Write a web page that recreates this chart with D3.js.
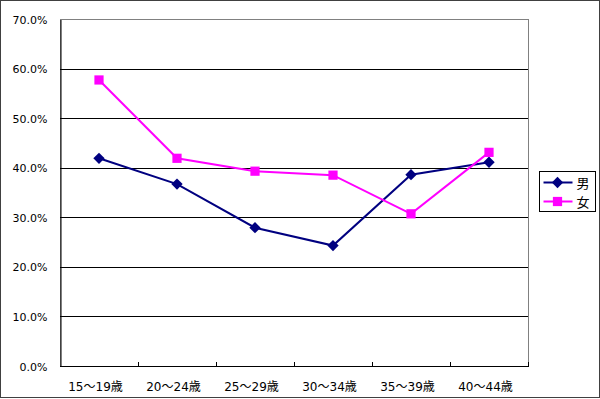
<!DOCTYPE html>
<html>
<head>
<meta charset="utf-8">
<script src="https://cdn.jsdelivr.net/npm/d3@7"></script>
<style>
  body { margin: 0; background: #fff; }
  text { font-family: "DejaVu Sans", "Noto Sans CJK JP", sans-serif; fill: #000; }
</style>
</head>
<body>
<div id="target_div"></div>
<script>
var categories = ['15～19歳', '20～24歳', '25～29歳', '30～34歳', '35～39歳', '40～44歳'];
var male = [41.9, 36.7, 27.9, 24.3, 38.6, 41.1];
var female = [57.7, 41.9, 39.3, 38.5, 30.7, 43.1];
var yTicks = [0, 10, 20, 30, 40, 50, 60, 70];
var seriesNames = ['男', '女'];

var W = 600, H = 399;
var plot = {left: 60, top: 19, right: 528, bottom: 366};

var svg = d3.select('#target_div')
  .append('svg')
  .attr('width', W)
  .attr('height', H);

// outer frame
svg.append('rect')
  .attr('x', 0.5).attr('y', 0.5)
  .attr('width', W - 1).attr('height', H - 2)
  .style('fill', '#fff')
  .style('stroke', '#404040');

var x = d3.scaleBand()
  .domain(categories)
  .range([plot.left, plot.right]);

var y = d3.scaleLinear()
  .domain([0, 70])
  .range([plot.bottom, plot.top]);

// plot area border
svg.append('rect')
  .attr('x', plot.left + 0.5).attr('y', plot.top + 0.5)
  .attr('width', plot.right - plot.left).attr('height', plot.bottom - plot.top)
  .style('fill', 'none')
  .style('stroke', '#808080');

// gridlines
svg.append('g')
  .selectAll('line')
  .data(yTicks.filter(d => d > 0 && d < 70))
  .enter()
  .append('line')
  .attr('x1', plot.left).attr('x2', plot.right)
  .attr('y1', d => Math.round(y(d)) + 0.5)
  .attr('y2', d => Math.round(y(d)) + 0.5)
  .style('stroke', '#000');

// y axis
var yAxis = d3.axisLeft(y)
  .tickValues(yTicks)
  .tickSize(0)
  .tickPadding(13)
  .tickFormat(d => d.toFixed(1) + '%');
var yg = svg.append('g')
  .attr('transform', `translate(${plot.left + 0.5}, 0.5)`)
  .call(yAxis);
yg.select('.domain').style('stroke', '#000');
yg.selectAll('text')
  .style('font-size', '11px')
  .style('font-family', '"DejaVu Sans", sans-serif')
  .style('fill', '#000');

// x axis
var xAxis = d3.axisBottom(x)
  .tickSize(0)
  .tickPadding(16);
var xg = svg.append('g')
  .attr('transform', `translate(-3.5, ${plot.bottom + 0.5})`)
  .call(xAxis);
xg.select('.domain').remove();
xg.selectAll('text')
  .attr('dy', '0.7em')
  .style('font-size', '12px')
  .style('fill', '#000');
svg.append('line')
  .attr('x1', plot.left).attr('x2', plot.right + 1)
  .attr('y1', plot.bottom + 0.5).attr('y2', plot.bottom + 0.5)
  .style('stroke', '#000');

// category separator ticks
svg.append('g')
  .selectAll('line')
  .data(categories)
  .enter()
  .append('line')
  .attr('x1', d => Math.round(x(d) + x.step()) + 0.5)
  .attr('x2', d => Math.round(x(d) + x.step()) + 0.5)
  .attr('y1', plot.bottom - 4)
  .attr('y2', plot.bottom)
  .style('stroke', '#000');

var lineGen = d3.line()
  .x((d, i) => x(categories[i]) + x.bandwidth() / 2)
  .y(d => y(d));

var colors = ['#000080', '#ff00ff'];
var symbols = [d3.symbolSquare, d3.symbolSquare];
var symSizes = [64, 85];
var symRot = [45, 0];

[male, female].forEach(function (vals, s) {
  svg.append('path')
    .attr('d', lineGen(vals))
    .style('fill', 'none')
    .style('stroke', colors[s])
    .style('stroke-width', 2);

  svg.append('g')
    .selectAll('path')
    .data(vals)
    .enter()
    .append('path')
    .attr('d', d3.symbol().type(symbols[s]).size(symSizes[s]))
    .attr('transform', (d, i) => `translate(${x(categories[i]) + x.bandwidth() / 2}, ${y(d)}) rotate(${symRot[s]})`)
    .style('fill', colors[s]);
});

// legend
var legend = svg.append('g')
  .attr('transform', 'translate(539.5, 171.5)');
legend.append('rect')
  .attr('width', 56).attr('height', 40)
  .style('fill', '#fff')
  .style('stroke', '#000');

seriesNames.forEach(function (name, s) {
  var row = legend.append('g')
    .attr('transform', `translate(0, ${11 + s * 19})`);
  row.append('line')
    .attr('x1', 4).attr('x2', 33)
    .style('stroke', colors[s])
    .style('stroke-width', 2);
  row.append('path')
    .attr('d', d3.symbol().type(symbols[s]).size(symSizes[s]))
    .attr('transform', `translate(18, 0) rotate(${symRot[s]})`)
    .style('fill', colors[s]);
  row.append('text')
    .attr('x', 37).attr('y', 5)
    .style('font-size', '13px')
    .style('font-family', '"Noto Sans CJK JP", sans-serif')
    .text(name);
});
</script>
</body>
</html>
